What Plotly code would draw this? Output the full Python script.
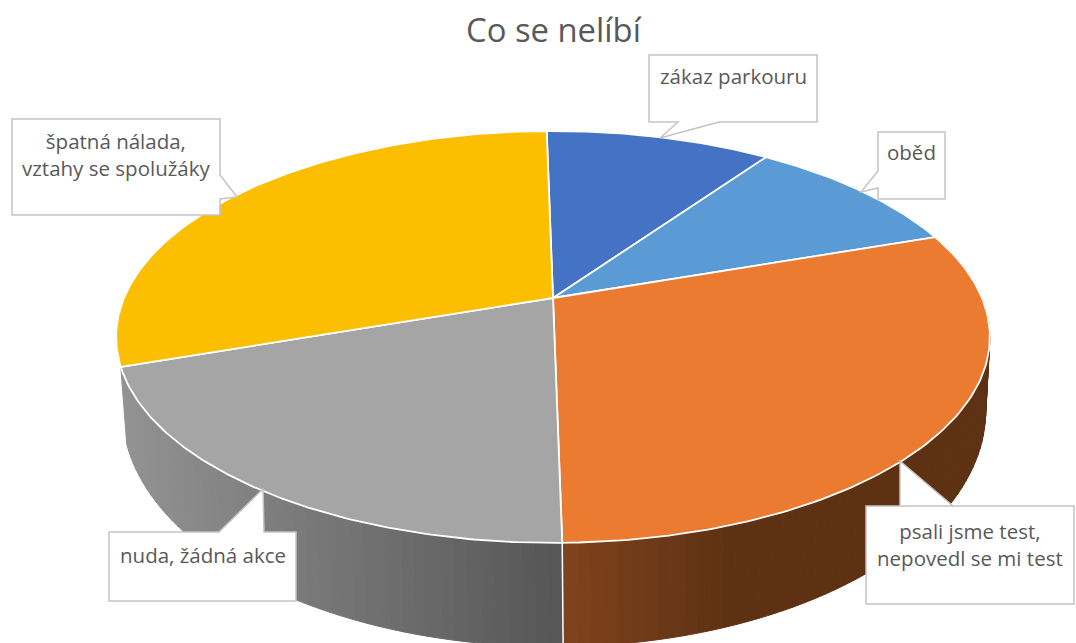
import numpy as np
import plotly.graph_objects as go

# ---- data ----
title_text = "Co se nelíbí"
categories = ["zákaz parkouru", "oběd", "psali jsme test,<br>nepovedl se mi test", "nuda, žádná akce", "špatná nálada,<br>vztahy se spolužáky"]
values = [10, 10, 30, 20, 30]
top_colors = ["#4472C4", "#5B9BD5", "#EB7B30", "#A5A5A5", "#FBBE00"]
# ---- style / projection ----
W, H = 1076, 643
START = -1.0
K = 0.189
TOP = dict(xc=553, yc=298, A=429, B=198.6)
BOT = dict(xc=554, yc=365.5, A=424, B=228)
TEXT = "#595959"
BORDER = "#C4C4C4"
FONT = "Open Sans"


def project(theta_deg, rim):
    t = np.radians(np.asarray(theta_deg, dtype=float))
    u, v = np.sin(t), np.cos(t)
    d = 1 + K * v
    return rim["xc"] + rim["A"] * u / d, rim["yc"] - rim["B"] * v / d


def lerp_color(x, stops):
    xs = [s[0] for s in stops]
    cs = np.array([s[1] for s in stops], dtype=float)
    rgb = [np.interp(x, xs, cs[:, i]) for i in range(3)]
    return "rgb(%d,%d,%d)" % tuple(int(round(c)) for c in rgb)


edges = START + np.concatenate([[0], np.cumsum(values)]) * 360.0 / sum(values)
fig = go.Figure()


def wall(a0, a1, stops):
    bands = np.arange(a0, a1 + 1e-6, 1.5)
    if bands[-1] < a1:
        bands = np.append(bands, a1)
    for b0, b1 in zip(bands[:-1], bands[1:]):
        th = np.linspace(b0, b1, 3)
        xt, yt = project(th, TOP)
        xb, yb = project(th[::-1], BOT)
        col = lerp_color((xt.mean() + xb.mean()) / 2, stops)
        fig.add_trace(go.Scatter(
            x=np.r_[xt, xb, xt[0]], y=np.r_[yt, yb, yt[0]], mode="lines", fill="toself",
            fillcolor=col, line=dict(color=col, width=1), hoverinfo="skip", showlegend=False))


wall(edges[2], edges[3], [(564, (127, 67, 28)), (730, (94, 49, 19))])
wall(edges[3], edges[4], [(120, (147, 147, 147)), (560, (86, 86, 86))])

# seam of the two visible walls
sx, sy = project([edges[3], edges[3]], TOP)
bx, by = project([edges[3], edges[3]], BOT)
fig.add_trace(go.Scatter(x=[sx[0], bx[0]], y=[sy[0], by[0]], mode="lines",
                         line=dict(color="white", width=1.5), hoverinfo="skip", showlegend=False))

# top face
for i, (cat, col) in enumerate(zip(categories, top_colors)):
    th = np.linspace(edges[i], edges[i + 1], 121)
    x, y = project(th, TOP)
    cx = TOP["xc"]
    cy = TOP["yc"]
    fig.add_trace(go.Scatter(
        x=np.r_[cx, x, cx], y=np.r_[cy, y, cy], mode="lines", fill="toself", fillcolor=col,
        line=dict(color="white", width=1.8), name=cat.replace("<br>", " "),
        hoverinfo="name", showlegend=False))

# callouts: outline path and text position
callouts = [
    dict(path="M649,55 L817,55 L817,122 L719,122 L660,138 L678,122 L649,122 Z", tx=733, ty=76),
    dict(path="M878,132 L945,132 L945,199 L878,199 L878,188 L861,192 L878,171 Z", tx=911, ty=152),
    dict(path="M866,506 L953,506 L900,461 L900,506 L866,506 L866,604 L1074,604 L1074,506 L953,506 Z", tx=970, ty=544),
    dict(path="M109,532 L219,532 L263,489 L264,532 L296,532 L296,601 L109,601 Z", tx=203, ty=555),
    dict(path="M12,119 L220,119 L220,175 L237,197 L220,199 L220,215 L12,215 Z", tx=116, ty=154),
]
shapes = [dict(type="path", path=c["path"], xref="x", yref="y", fillcolor="white",
               line=dict(color=BORDER, width=1.5), layer="above") for c in callouts]
annotations = [dict(x=c["tx"], y=c["ty"], xref="x", yref="y", text=cat, showarrow=False,
                    font=dict(family=FONT, size=20.5, color=TEXT), align="center",
                    xanchor="center", yanchor="middle")
               for c, cat in zip(callouts, categories)]
annotations.append(dict(x=553.5, y=29, xref="x", yref="y", text=title_text, showarrow=False,
                        font=dict(family=FONT, size=32.8, color=TEXT), xanchor="center", yanchor="middle"))

fig.update_layout(
    width=W, height=H, margin=dict(l=0, r=0, t=0, b=0), autosize=False,
    paper_bgcolor="white", plot_bgcolor="white", showlegend=False,
    xaxis=dict(range=[0, W], visible=False, fixedrange=True),
    yaxis=dict(range=[H, 0], visible=False, fixedrange=True),
    shapes=shapes, annotations=annotations,
)
fig.write_html("out.html", post_script="document.body.style.margin='0';document.body.style.overflow='hidden';",
               config={"displayModeBar": False})
